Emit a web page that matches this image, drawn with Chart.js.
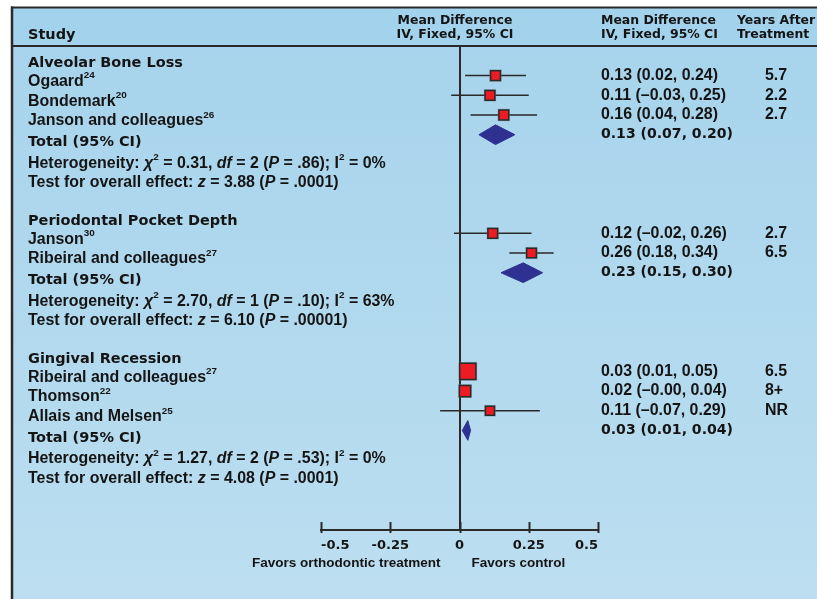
<!DOCTYPE html>
<html>
<head>
<meta charset="utf-8">
<script src="https://cdn.jsdelivr.net/npm/chart.js@4.4.0/dist/chart.umd.min.js"></script>
<style>
  html, body { margin: 0; padding: 0; background: #fff; }
  #wrap { width: 817px; height: 599px; }
</style>
</head>
<body>
<div id="wrap"><canvas id="forest" width="817" height="599"></canvas></div>
<script>
// data
const groups = ['Alveolar Bone Loss', 'Periodontal Pocket Depth', 'Gingival Recession'];
const studies = ['Ogaard', 'Bondemark', 'Janson and colleagues', 'Janson', 'Ribeiral and colleagues', 'Ribeiral and colleagues', 'Thomson', 'Allais and Melsen'];
const refs = ['24', '20', '26', '30', '27', '27', '22', '25'];
const studyGroup = [0, 0, 0, 1, 1, 2, 2, 2];
const meanDiff = [0.13, 0.11, 0.16, 0.12, 0.26, 0.03, 0.02, 0.11];
const ciLow = [0.02, -0.03, 0.04, -0.02, 0.18, 0.01, -0.00, -0.07];
const ciHigh = [0.24, 0.25, 0.28, 0.26, 0.34, 0.05, 0.04, 0.29];
const weights = [12, 12, 12, 11, 11, 70, 25, 5];
const yearsAfter = ['5.7', '2.2', '2.7', '2.7', '6.5', '6.5', '8+', 'NR'];

const totalMean = [0.13, 0.23, 0.03];
const totalLow = [0.07, 0.15, 0.01];
const totalHigh = [0.20, 0.30, 0.04];

const chi2 = ['0.31', '2.70', '1.27'];
const dfs = ['2', '1', '2'];
const pHet = ['.86', '.10', '.53'];
const i2 = ['0', '63', '0'];
const zOverall = ['3.88', '6.10', '4.08'];
const pOverall = ['.0001', '.00001', '.0001'];

const xTicks = [-0.5, -0.25, 0, 0.25, 0.5];
const xTickLabels = ['-0.5', '-0.25', '0', '0.25', '0.5'];
const favorsLabels = ['Favors orthodontic treatment', 'Favors control'];

// row layout: header, studies, total, heterogeneity, test, blank
const headerRow = [], studyRow = [], totalRow = [];
let r = 0;
groups.forEach((g, gi) => {
  headerRow.push(r); r++;
  studyGroup.forEach((sg, i) => { if (sg === gi) { studyRow[i] = r; r++; } });
  totalRow.push(r); r += 4;
});

const DARK = '#2a2a2a';
const INK = '#141414';
const BODY = '"Liberation Sans", Arial, sans-serif';
const HEAVY = '"DejaVu Sans", "Liberation Sans", sans-serif';

// pick font sizes so the installed fonts take the same width as the picture's text
const measure = document.createElement('canvas').getContext('2d');
function fitSize(text, target, weight, family) {
  measure.font = weight + ' 20px ' + family;
  return 20 * target / measure.measureText(text).width;
}
const bodySize = fitSize('Heterogeneity: \u03c7 = 0.31, df = 2 (P = .86); I = 0%', 347, 700, BODY);
const numSize = fitSize('0.13 (0.02, 0.24)', 117, 700, BODY);
const favSize = fitSize('Favors control', 94, 700, BODY);
const heavySize = fitSize('Alveolar Bone Loss', 155, 700, HEAVY);
const headSize = fitSize('Mean Difference', 115, 700, HEAVY);

function fmt(v) {
  const neg = v < 0 || Object.is(v, -0);
  return (neg ? '\u2013' : '') + Math.abs(v).toFixed(2);
}

function boxSide(w) { return 10 + w * 0.11; }

// tiny markup: {i:..} italic, {s:..} superscript
function parse(str) {
  const out = [];
  const re = /\{(i|s):([^}]*)\}/g;
  let last = 0, m;
  while ((m = re.exec(str))) {
    if (m.index > last) out.push([str.slice(last, m.index), '']);
    out.push([m[2], m[1]]);
    last = re.lastIndex;
  }
  if (last < str.length) out.push([str.slice(last), '']);
  return out;
}

function drawRich(ctx, x, y, str, size, weight, family) {
  ctx.textBaseline = 'middle';
  ctx.textAlign = 'left';
  parse(str).forEach(([t, st]) => {
    let fs = size, dy = 0, it = '';
    if (st === 's') { fs = size * 0.62; dy = -size * 0.36; }
    if (st === 'i') it = 'italic ';
    ctx.font = it + weight + ' ' + fs + 'px ' + family;
    ctx.fillText(t, x, y + dy);
    x += ctx.measureText(t).width;
  });
}

const squareData = meanDiff.map((v, i) => ({ x: v, y: studyRow[i] }));
const whiskerData = [];
meanDiff.forEach((v, i) => {
  whiskerData.push({ x: ciLow[i], y: studyRow[i] }, { x: ciHigh[i], y: studyRow[i] }, { x: null, y: null });
});
const diamondSets = totalMean.map((m, gi) => ({
  type: 'line',
  data: [
    { x: totalLow[gi], y: totalRow[gi] },
    { x: m, y: totalRow[gi] - 0.5 },
    { x: totalHigh[gi], y: totalRow[gi] },
    { x: m, y: totalRow[gi] + 0.5 },
    { x: totalLow[gi], y: totalRow[gi] }
  ],
  borderColor: '#2e3192',
  borderWidth: 1,
  backgroundColor: '#2e3192',
  fill: 'shape',
  pointRadius: 0,
  tension: 0
}));

const backdrop = {
  id: 'backdrop',
  beforeDraw(chart) {
    const ctx = chart.ctx;
    ctx.save();
    ctx.fillStyle = '#ffffff';
    ctx.fillRect(0, 0, 817, 599);
    const g = ctx.createLinearGradient(0, 46, 0, 599);
    g.addColorStop(0, '#a7d4ec');
    g.addColorStop(1, '#bcdef0');
    ctx.fillStyle = g;
    ctx.fillRect(12, 46, 805, 553);
    ctx.fillStyle = '#a3d3ec';
    ctx.fillRect(12, 8, 805, 38);
    ctx.strokeStyle = DARK;
    ctx.lineWidth = 2;
    ctx.beginPath();
    ctx.moveTo(11, 7.5); ctx.lineTo(817, 7.5);
    ctx.moveTo(11, 46); ctx.lineTo(817, 46);
    ctx.stroke();
    ctx.lineWidth = 2.5;
    ctx.beginPath();
    ctx.moveTo(12, 6.5); ctx.lineTo(12, 599);
    ctx.stroke();
    ctx.restore();
  }
};

const labels = {
  id: 'labels',
  afterDraw(chart) {
    const ctx = chart.ctx;
    const y = chart.scales.y, x = chart.scales.x;
    ctx.save();
    ctx.fillStyle = INK;
    // column headers
    drawRich(ctx, 28, 35, 'Study', heavySize, 700, HEAVY);
    ctx.font = '700 ' + headSize + 'px ' + HEAVY;
    ctx.textAlign = 'center';
    ctx.textBaseline = 'middle';
    ctx.fillText('Mean Difference', 455, 20.5);
    ctx.fillText('IV, Fixed, 95% CI', 455, 35);
    ctx.textAlign = 'left';
    ctx.fillText('Mean Difference', 601, 20.5);
    ctx.fillText('IV, Fixed, 95% CI', 601, 35);
    ctx.fillText('Years After', 737, 20.5);
    ctx.fillText('Treatment', 737, 35);

    groups.forEach((g, gi) => {
      drawRich(ctx, 28, y.getPixelForValue(headerRow[gi] + 0.38), g, heavySize, 700, HEAVY);
      const t = totalRow[gi];
      drawRich(ctx, 28, y.getPixelForValue(t + 0.4), 'Total (95% CI)', heavySize, 700, HEAVY);
      drawRich(ctx, 28, y.getPixelForValue(t + 1.45),
        'Heterogeneity: {i:\u03c7}{s:2} = ' + chi2[gi] + ', {i:df} = ' + dfs[gi] + ' ({i:P} = ' + pHet[gi] + '); I{s:2} = ' + i2[gi] + '%',
        bodySize, 700, BODY);
      drawRich(ctx, 28, y.getPixelForValue(t + 2.45),
        'Test for overall effect: {i:z} = ' + zOverall[gi] + ' ({i:P} = ' + pOverall[gi] + ')',
        bodySize, 700, BODY);
      drawRich(ctx, 601, y.getPixelForValue(t),
        fmt(totalMean[gi]) + ' (' + fmt(totalLow[gi]) + ', ' + fmt(totalHigh[gi]) + ')', heavySize * 0.97, 700, HEAVY);
    });
    studies.forEach((s, i) => {
      drawRich(ctx, 28, y.getPixelForValue(studyRow[i] + 0.3), s + '{s:' + refs[i] + '}', bodySize, 700, BODY);
      drawRich(ctx, 601, y.getPixelForValue(studyRow[i]),
        fmt(meanDiff[i]) + ' (' + fmt(ciLow[i]) + ', ' + fmt(ciHigh[i]) + ')', numSize, 700, BODY);
      drawRich(ctx, 765, y.getPixelForValue(studyRow[i]), yearsAfter[i], numSize, 700, BODY);
    });

    // tick marks pointing up from the axis
    const base = chart.chartArea.bottom;
    ctx.strokeStyle = DARK;
    ctx.lineWidth = 2;
    ctx.beginPath();
    xTicks.forEach(v => {
      const px = Math.round(x.getPixelForValue(v)) + 0.5;
      ctx.moveTo(px, base - 8); ctx.lineTo(px, base + 3);
    });
    ctx.stroke();

    // favours labels
    const zero = x.getPixelForValue(0);
    ctx.font = '700 ' + favSize + 'px ' + BODY;
    ctx.textBaseline = 'middle';
    ctx.textAlign = 'right';
    ctx.fillText(favorsLabels[0], zero - 19, 563);
    ctx.textAlign = 'left';
    ctx.fillText(favorsLabels[1], zero + 12, 563);
    ctx.restore();
  }
};

new Chart(document.getElementById('forest'), {
  type: 'line',
  data: {
    datasets: [
      {
        data: squareData,
        showLine: false,
        pointStyle: 'rect',
        pointRadius: c => (boxSide(weights[c.dataIndex]) - 1.5) / Math.SQRT2,
        backgroundColor: '#ed1c24',
        borderColor: DARK,
        pointBorderWidth: 1.5
      },
      {
        data: squareData,
        showLine: false,
        pointStyle: 'rect',
        pointRadius: c => (boxSide(weights[c.dataIndex]) + 1) / Math.SQRT2,
        backgroundColor: 'rgba(110,125,135,0.55)',
        borderWidth: 0,
        pointBorderWidth: 0
      },
      ...diamondSets,
      {
        data: whiskerData,
        borderColor: DARK,
        borderWidth: 1.6,
        pointRadius: 0,
        fill: false,
        spanGaps: false
      }
    ]
  },
  options: {
    responsive: false,
    animation: false,
    devicePixelRatio: 1,
    events: [],
    layout: { padding: { left: 321, right: 219, top: 46, bottom: 0 } },
    plugins: { legend: { display: false }, tooltip: { enabled: false } },
    scales: {
      x: {
        type: 'linear',
        min: -0.5,
        max: 0.5,
        afterBuildTicks: s => { s.ticks = xTicks.map(v => ({ value: v })); },
        afterFit: s => { s.height = 599 - 530; },
        ticks: {
          callback: (v, i) => xTickLabels[i],
          align: 'inner',
          autoSkip: false,
          maxRotation: 0,
          padding: 8,
          color: INK,
          font: { family: HEAVY, weight: 700, size: 13 }
        },
        grid: {
          drawTicks: false,
          lineWidth: 2,
          color: c => (c.tick && c.tick.value === 0 ? DARK : 'rgba(0,0,0,0)')
        },
        border: { display: true, color: DARK, width: 2 }
      },
      y: {
        type: 'linear',
        display: false,
        reverse: true,
        min: -0.5,
        max: 24.05
      }
    }
  },
  plugins: [backdrop, labels]
});
</script>
</body>
</html>
